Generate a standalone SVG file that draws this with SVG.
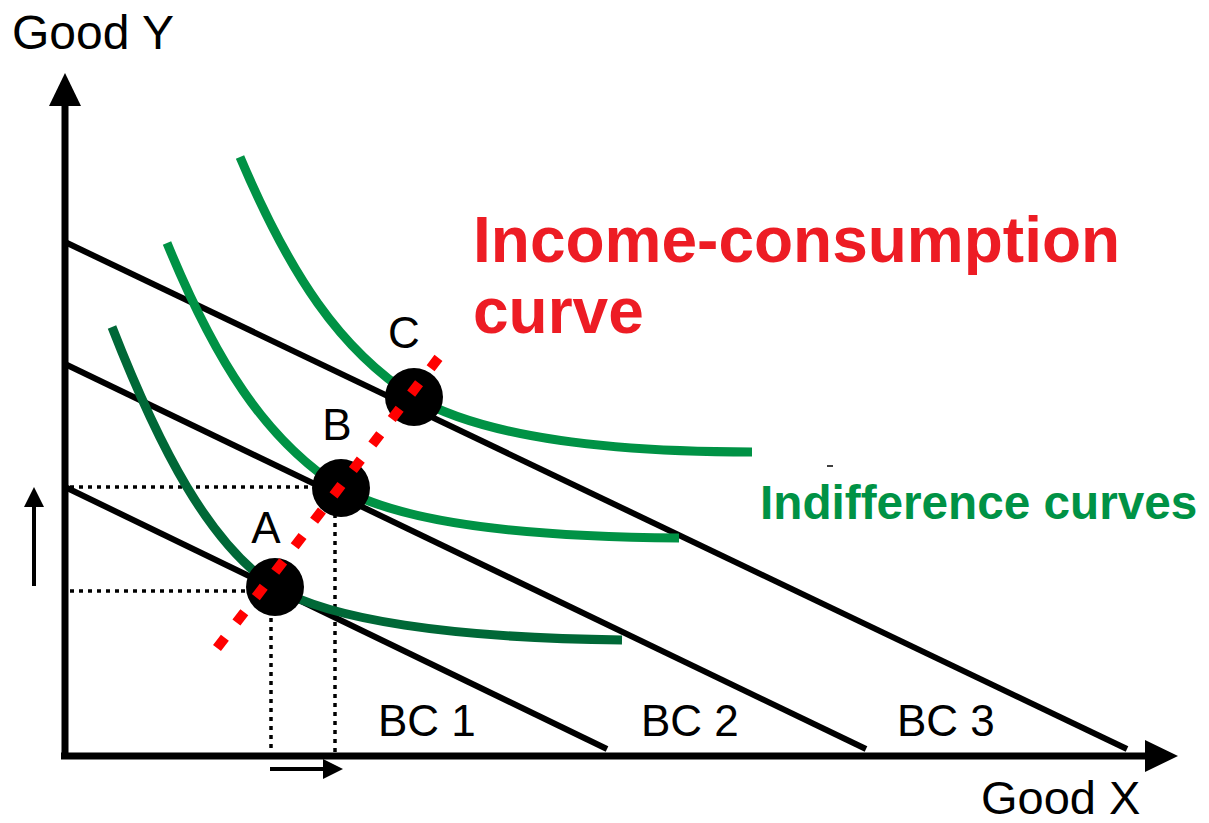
<svg xmlns="http://www.w3.org/2000/svg" width="1209" height="823" viewBox="0 0 1209 823">
<style>
  text { font-family: "Liberation Sans", Arial, sans-serif; }
  .lbl { font-size: 44px; fill: #000; }
  .axis { stroke: #000; stroke-width: 7; fill: none; }
  .bc { stroke: #000; stroke-width: 6; fill: none; stroke-linecap: butt; }
  .ic { stroke: #009245; stroke-width: 9; fill: none; }
  .ic1 { stroke: #006837; }
  .dot { stroke: #000; stroke-width: 3.5; stroke-dasharray: 4 5; fill: none; }
  .icc { stroke: #ff0000; stroke-width: 10; stroke-dasharray: 13 19; fill: none; }
  .pt { fill: #000; }
</style>
<rect width="1209" height="823" fill="#fff"/>

<g id="axes">
  <line class="axis" x1="65" y1="757" x2="65" y2="100"/>
  <polygon points="65,73 49,106 81,106" fill="#000"/>
  <line class="axis" x1="61" y1="756" x2="1150" y2="756"/>
  <polygon points="1178,756 1145,740 1145,772" fill="#000"/>
  <text x="12" y="49" font-size="48">Good Y</text>
  <text x="981" y="814" font-size="47">Good X</text>
</g>

<g id="connectors">
  <line class="dot" x1="70" y1="487" x2="318" y2="487"/>
  <line class="dot" x1="70" y1="591" x2="252" y2="591"/>
  <line class="dot" x1="271" y1="600" x2="271" y2="752"/>
  <line class="dot" x1="335" y1="505" x2="335" y2="752"/>
  <line x1="34" y1="586" x2="34" y2="504" stroke="#000" stroke-width="4"/>
  <polygon points="34,487 24,507 44,507" fill="#000"/>
  <line x1="270" y1="769" x2="326" y2="769" stroke="#000" stroke-width="4"/>
  <polygon points="343,769 323,759 323,779" fill="#000"/>
  <line x1="827" y1="466" x2="833" y2="466" stroke="#000" stroke-width="1.5"/>
</g>

<g id="bc1">
  <line class="bc" x1="65" y1="487" x2="607" y2="749"/>
  <text class="lbl" x="378" y="736">BC 1</text>
</g>
<g id="bc2">
  <line class="bc" x1="65" y1="364" x2="866" y2="749"/>
  <text class="lbl" x="641" y="736">BC 2</text>
</g>
<g id="bc3">
  <line class="bc" x1="65" y1="242" x2="1127" y2="749"/>
  <text class="lbl" x="897" y="736">BC 3</text>
</g>

<g id="ic1">
  <path class="ic ic1" d="M112,327 C160,450 210,545 275,587 C330,620 450,638 622,640"/>
</g>
<g id="ic2">
  <path class="ic" d="M167,243 C215,360 265,440 341,488 C400,522 520,537 679,538"/>
</g>
<g id="ic3">
  <path class="ic" d="M240,157 C290,275 340,350 414,397 C480,435 600,452 752,452"/>
</g>

<g id="pointA">
  <circle class="pt" cx="275" cy="587" r="29"/>
  <text class="lbl" x="266" y="543" text-anchor="middle">A</text>
</g>
<g id="pointB">
  <circle class="pt" cx="341" cy="488" r="29"/>
  <text class="lbl" x="337" y="440" text-anchor="middle">B</text>
</g>
<g id="pointC">
  <circle class="pt" cx="414" cy="397" r="29"/>
  <text class="lbl" x="404" y="348" text-anchor="middle">C</text>
</g>

<g id="icc">
  <line class="icc" x1="217" y1="648" x2="446" y2="348"/>
  <text x="473" y="262" font-size="64" font-weight="bold" fill="#ed1c24">Income-consumption</text>
  <text x="473" y="333" font-size="64" font-weight="bold" fill="#ed1c24">curve</text>
</g>

<g id="legend">
  <text x="760" y="519" font-size="47.7" font-weight="bold" fill="#009245">Indifference curves</text>
</g>
</svg>
